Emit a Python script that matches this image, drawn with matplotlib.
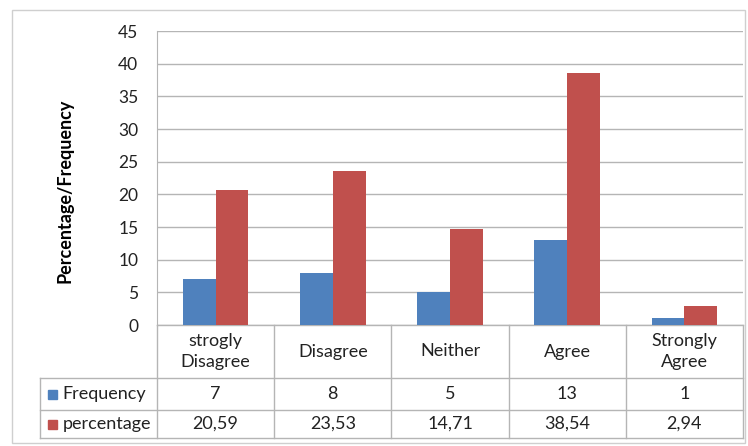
import matplotlib
matplotlib.use('Agg')
import matplotlib.pyplot as plt
from matplotlib.lines import Line2D
from matplotlib.patches import Rectangle
import numpy as np

plt.rcParams['font.family'] = ['Lato', 'DejaVu Sans']

categories = ['strogly\nDisagree', 'Disagree', 'Neither', 'Agree', 'Strongly\nAgree']
frequency = [7, 8, 5, 13, 1]
percentage = [20.59, 23.53, 14.71, 38.54, 2.94]
freq_labels = ['7', '8', '5', '13', '1']
pct_labels = ['20,59', '23,53', '14,71', '38,54', '2,94']
yticks = [0, 5, 10, 15, 20, 25, 30, 35, 40, 45]

COLOR_FREQ = '#4F81BD'
COLOR_PCT = '#C0504D'
GRID = '#B5B5B5'
TXT = '#222222'

W, H = 748, 446
fig = plt.figure(figsize=(W / 100, H / 100), dpi=100)

# outer chart border
fig.add_artist(Rectangle((12 / W, 1 - 443 / H), 733 / W, 433 / H,
                         transform=fig.transFigure, fill=False,
                         edgecolor='#CFCFCF', linewidth=1))

left, right, top, bottom = 157, 743, 31, 325
ax = fig.add_axes([left / W, 1 - bottom / H, (right - left) / W, (bottom - top) / H])

x = np.arange(len(categories))
bw = 0.28
ax.bar(x - bw / 2, frequency, bw, color=COLOR_FREQ, label='Frequency', zorder=3)
ax.bar(x + bw / 2, percentage, bw, color=COLOR_PCT, label='percentage', zorder=3)

ax.set_xlim(-0.5, len(categories) - 0.5)
ax.set_ylim(0, 45)
ax.set_yticks(yticks)
ax.set_xticks([])
ax.tick_params(axis='y', length=0, pad=13.5, labelsize=12.5, colors=TXT)
ax.yaxis.grid(True, color=GRID, linewidth=1, zorder=0)
for s in ['top', 'right', 'bottom']:
    ax.spines[s].set_visible(False)
ax.spines['left'].set_color(GRID)

ax.set_ylabel('Percentage/Frequency', fontsize=13, fontweight='bold')
ax.yaxis.set_label_coords(-0.143, 0.456)

# data table under the axes (x in data units, y in axes fraction)
tr = ax.get_xaxis_transform()
ah = bottom - top
r0 = 0.0
r1 = -(378 - bottom) / ah
r2 = -(410 - bottom) / ah
r3 = -(438 - bottom) / ah
n = len(categories)

def hline(y, x0, x1):
    ax.add_line(Line2D([x0, x1], [y, y], transform=tr, color=GRID, lw=1, clip_on=False))

def vline(xv, y0, y1):
    ax.add_line(Line2D([xv, xv], [y0, y1], transform=tr, color=GRID, lw=1, clip_on=False))

hline(r0, -0.5, n - 0.5)
for yy in (r1, r2, r3):
    hline(yy, -1.5, n - 0.5)
for k in range(n + 1):
    vline(k - 0.5, r0, r3)
vline(-1.5, r1, r3)

fs = 13
for i, c in enumerate(categories):
    ax.text(i, (r0 + r1) / 2, c, transform=tr, ha='center', va='center',
            fontsize=fs, color=TXT, linespacing=1.4)
    ax.text(i, (r1 + r2) / 2, freq_labels[i], transform=tr, ha='center', va='center',
            fontsize=fs, color=TXT)
    ax.text(i, (r2 + r3) / 2, pct_labels[i], transform=tr, ha='center', va='center',
            fontsize=fs, color=TXT)

# legend keys in the first table column
sq_w = 9 / 117.2
sq_h = 9 / ah
for (yy0, yy1), name, col in [((r1, r2), 'Frequency', COLOR_FREQ),
                              ((r2, r3), 'percentage', COLOR_PCT)]:
    ym = (yy0 + yy1) / 2
    ax.add_patch(Rectangle((-1.5 + 8 / 117.2, ym - sq_h / 2), sq_w, sq_h, transform=tr,
                           color=col, clip_on=False))
    ax.text(-1.5 + 23 / 117.2, ym, name, transform=tr, ha='left', va='center',
            fontsize=fs, color=TXT)

fig.savefig('out.png', dpi=100)
